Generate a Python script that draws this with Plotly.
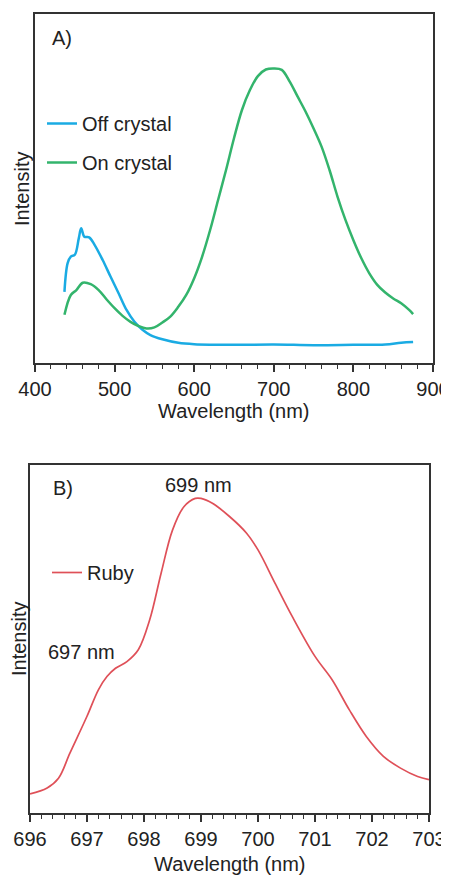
import plotly.graph_objects as go

# ---- Panel A data ----
on_wl = [437, 445, 452, 460, 470, 480, 490, 500, 510, 520, 530, 540, 550, 560, 570, 580,
         590, 600, 610, 620, 630, 640, 650, 660, 670, 680, 690, 700, 710, 720, 730, 740,
         750, 760, 770, 780, 790, 800, 810, 820, 830, 840, 850, 860, 870, 875]
on_int = [0.138, 0.195, 0.209, 0.230, 0.226, 0.209, 0.182, 0.157, 0.135, 0.118, 0.106, 0.099,
          0.102, 0.116, 0.133, 0.161, 0.195, 0.243, 0.305, 0.381, 0.467, 0.553, 0.644, 0.725,
          0.782, 0.822, 0.841, 0.844, 0.840, 0.806, 0.763, 0.720, 0.672, 0.620, 0.553, 0.477,
          0.410, 0.352, 0.300, 0.257, 0.224, 0.202, 0.185, 0.171, 0.152, 0.140]

off_wl = [437, 441, 445, 450, 455, 458, 462, 468, 475, 485, 495, 505, 515, 525, 535, 545,
          560, 580, 600, 650, 700, 750, 800, 840, 860, 875]
off_int = [0.204, 0.286, 0.305, 0.310, 0.357, 0.386, 0.362, 0.360, 0.338, 0.295, 0.247, 0.200,
           0.152, 0.118, 0.095, 0.080, 0.068, 0.058, 0.054, 0.052, 0.053, 0.051, 0.052, 0.053,
           0.058, 0.060]

# ---- Panel B data ----
ruby_wl = [696.0, 696.3, 696.5, 696.7, 697.0, 697.2, 697.35, 697.5, 697.7, 697.9, 698.1, 698.3,
           698.5, 698.7, 698.9, 699.0, 699.2, 699.5, 699.8, 700.0, 700.3, 700.6, 701.0, 701.3,
           701.6, 701.9, 702.2, 702.5, 702.8, 703.0]
ruby_int = [0.055, 0.072, 0.100, 0.172, 0.278, 0.354, 0.392, 0.416, 0.435, 0.469, 0.555, 0.689,
            0.813, 0.880, 0.904, 0.904, 0.890, 0.852, 0.804, 0.756, 0.660, 0.565, 0.450, 0.383,
            0.297, 0.220, 0.163, 0.129, 0.105, 0.096]

xticks_a = [400, 500, 600, 700, 800, 900]
xticks_b = [696, 697, 698, 699, 700, 701, 702, 703]

OFF = 8                  # default page body margin
W, H = 449, 876
FONT = "Liberation Sans, Arial, sans-serif"
FS = 20
TXT = "#222222"
AX = "#333333"

def px(x):
    return (x - OFF) / W

def py(y):
    return 1 - (y - OFF) / H

fig = go.Figure()
fig.add_trace(go.Scatter(x=off_wl, y=off_int, mode="lines", name="Off crystal",
                         line=dict(color="#1AABE3", width=2.5, shape="spline"),
                         xaxis="x", yaxis="y", legend="legend", legendgroup="a1"))
fig.add_trace(go.Scatter(x=on_wl, y=on_int, mode="lines", name="On crystal",
                         line=dict(color="#33B46C", width=2.5, shape="spline"),
                         xaxis="x", yaxis="y", legend="legend", legendgroup="a2"))
fig.add_trace(go.Scatter(x=ruby_wl, y=ruby_int, mode="lines", name="Ruby",
                         line=dict(color="#DF5058", width=1.7, shape="spline"),
                         xaxis="x2", yaxis="y2", legend="legend2"))

axis_common = dict(showline=True, linecolor=AX, linewidth=1.6, mirror=True,
                   showgrid=False, zeroline=False, automargin=False)

fig.update_layout(
    width=W, height=H,
    margin=dict(l=0, r=0, t=0, b=0, autoexpand=False),
    paper_bgcolor="white", plot_bgcolor="white",
    font=dict(family=FONT, size=FS, color=TXT),
    xaxis=dict(domain=[px(35), px(433)], range=[400, 900], anchor="y",
               tickvals=xticks_a, ticks="outside", ticklen=7, tickwidth=1.5, tickcolor=AX,
               minor=dict(dtick=20, ticks="outside", ticklen=4, tickwidth=1.3, tickcolor=AX),
               tickfont=dict(size=FS, color=TXT), **axis_common),
    yaxis=dict(domain=[py(363), py(14)], range=[0, 1], anchor="x",
               showticklabels=False, ticks="", **axis_common),
    xaxis2=dict(domain=[px(30), px(429)], range=[696, 703], anchor="y2",
                tickvals=xticks_b, ticks="outside", ticklen=7, tickwidth=1.5, tickcolor=AX,
                minor=dict(dtick=0.2, ticks="outside", ticklen=4, tickwidth=1.3, tickcolor=AX),
                tickfont=dict(size=FS, color=TXT), **axis_common),
    yaxis2=dict(domain=[py(813), py(465)], range=[0, 1], anchor="x2",
                showticklabels=False, ticks="", **axis_common),
    legend=dict(x=px(42), y=py(104), xanchor="left", yanchor="top",
                bgcolor="rgba(0,0,0,0)", itemwidth=30, tracegroupgap=10,
                font=dict(size=FS, color=TXT)),
    legend2=dict(x=px(47), y=py(553), xanchor="left", yanchor="top",
                 bgcolor="rgba(0,0,0,0)", itemwidth=30,
                 font=dict(size=FS, color=TXT)),
    showlegend=True,
)

annos = [
    dict(text="A)", x=px(50), y=py(38), xanchor="left"),
    dict(text="B)", x=px(51), y=py(488), xanchor="left"),
    dict(text="699 nm", x=px(198), y=py(485), xanchor="center"),
    dict(text="697 nm", x=px(81), y=py(652), xanchor="center"),
    dict(text="Wavelength (nm)", x=px(234), y=py(411), xanchor="center"),
    dict(text="Wavelength (nm)", x=px(230), y=py(864), xanchor="center"),
    dict(text="Intensity", x=px(22), y=py(189), xanchor="center", textangle=-90),
    dict(text="Intensity", x=px(19), y=py(639), xanchor="center", textangle=-90),
]
for a in annos:
    fig.add_annotation(xref="paper", yref="paper", showarrow=False, yanchor="middle",
                       font=dict(size=FS, color=TXT, family=FONT), **a)

fig.write_html("out.html")
